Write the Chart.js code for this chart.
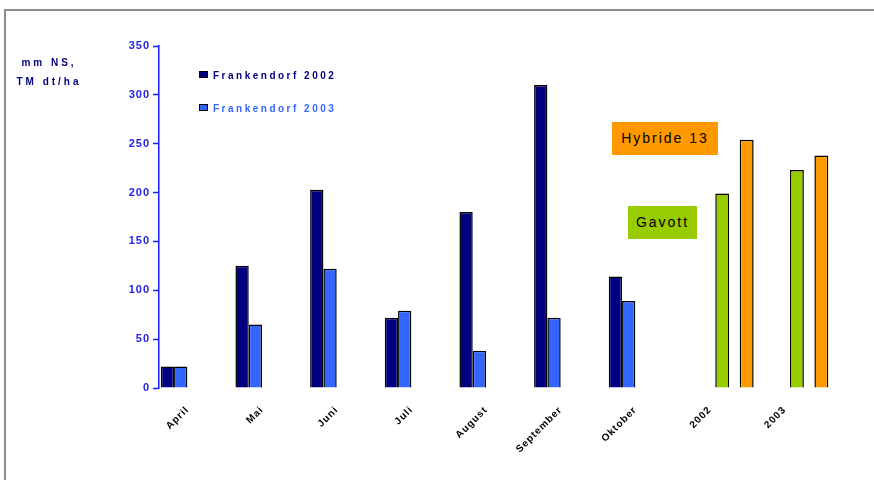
<!DOCTYPE html>
<html>
<head>
<meta charset="utf-8">
<script src="https://cdn.jsdelivr.net/npm/chart.js@4.4.1/dist/chart.umd.min.js"></script>
<style>
  body { margin: 0; width: 874px; height: 480px; background: #fff; position: relative; overflow: hidden; font-family: "Liberation Sans", Arial, sans-serif; }
  #frame { position: absolute; left: 4px; top: 9px; width: 880px; height: 480px; border-top: 2px solid #8c8c8c; border-left: 2px solid #8c8c8c; }
  #wrap { position: absolute; left: 0; top: 0; width: 874px; height: 480px; }
  #unit { position: absolute; left: 8px; top: 53px; width: 82px; text-align: center; color: #000080; font-weight: bold; font-size: 10px; line-height: 19px; letter-spacing: 3px; }
  #legend { position: absolute; left: 199px; top: 70px; }
  #legend div { height: 33px; font-weight: bold; font-size: 10px; letter-spacing: 2.5px; white-space: nowrap; }
  #legend span { display: inline-block; width: 7px; height: 5px; border: 1px solid #000; margin-right: 5px; vertical-align: 1px; }
  .tag { position: absolute; height: 33px; line-height: 33px; text-align: center; font-size: 14px; letter-spacing: 2px; color: #000; }
</style>
</head>
<body>
<div id="frame"></div>
<div id="wrap"><canvas id="chart"></canvas></div>
<div id="unit">mm NS,<br>TM dt/ha</div>
<div id="legend"></div>
<script>
// monthly values for the two Frankendorf years, yields for the two varieties
const months = ['April', 'Mai', 'Juni', 'Juli', 'August', 'September', 'Oktober'];
const years = ['2002', '2003'];
const categories = months.concat(years);
const frankendorf2002 = [22, 125, 203, 72, 180, 310, 114];
const frankendorf2003 = [22, 65, 122, 79, 38, 72, 89];
const gavott = [199, 223];
const hybride13 = [254, 238];
const yTicks = [0, 50, 100, 150, 200, 250, 300, 350];

const monthPoints = arr => arr.map((v, i) => ({ x: i, y: v }));
const yearPoints = arr => arr.map((v, i) => ({ x: months.length + i, y: v }));

// canvas text in this chart is slightly spaced out
const spacing = {
  id: 'spacing',
  beforeUpdate: c => { c.ctx.letterSpacing = '1px'; },
  beforeDraw: c => { c.ctx.letterSpacing = '1px'; }
};

const ctx = document.getElementById('chart');

const chart = new Chart(ctx, {
  type: 'bar',
  data: {
    datasets: [{
      label: 'Frankendorf 2002',
      data: monthPoints(frankendorf2002),
      backgroundColor: '#000080',
      categoryPercentage: 0.712,
      barPercentage: 1
    }, {
      label: 'Frankendorf 2003',
      data: monthPoints(frankendorf2003),
      backgroundColor: '#3366ff',
      categoryPercentage: 0.712,
      barPercentage: 1
    }, {
      label: 'Gavott',
      data: yearPoints(gavott),
      backgroundColor: '#99cc00',
      categoryPercentage: 1.31,
      barPercentage: 0.57
    }, {
      label: 'Hybride 13',
      data: yearPoints(hybride13),
      backgroundColor: '#ff9900',
      categoryPercentage: 1.31,
      barPercentage: 0.57
    }]
  },
  plugins: [spacing],
  options: {
    responsive: true,
    maintainAspectRatio: false,
    animation: false,
    layout: { padding: { top: 46, right: 24, left: 0, bottom: 0 } },
    elements: {
      bar: { borderColor: '#000', borderWidth: 1.5 }
    },
    plugins: {
      legend: { display: false },
      tooltip: { enabled: false }
    },
    scales: {
      x: {
        type: 'linear',
        offset: false, // bar charts pad the index axis by default
        min: -0.38,
        max: 8.875,
        afterBuildTicks: s => { s.ticks = categories.map((c, i) => ({ value: i })); },
        afterFit: s => { s.height = 92; },
        grid: { display: false },
        border: { display: false },
        ticks: {
          callback: v => categories[v],
          autoSkip: false,
          minRotation: 45,
          maxRotation: 45,
          padding: 8,
          color: '#000',
          font: { family: 'Liberation Sans', size: 10, weight: 'bold' }
        }
      },
      y: {
        min: yTicks[0],
        max: yTicks[yTicks.length - 1],
        afterBuildTicks: s => { s.ticks = yTicks.map(v => ({ value: v })); },
        afterFit: s => { s.width = 159; },
        grid: { drawOnChartArea: false, tickLength: 6, color: '#1a1aff', tickWidth: 1.5 },
        border: { color: '#1a1aff', width: 1.5 },
        ticks: {
          padding: 3,
          color: '#2323e0',
          font: { family: 'Liberation Sans', size: 11, weight: 'bold' }
        }
      }
    }
  }
});

// legend for the monthly series, tags for the two varieties
const legend = document.getElementById('legend');
chart.data.datasets.slice(0, 2).forEach(ds => {
  const row = document.createElement('div');
  row.style.color = ds.backgroundColor;
  row.innerHTML = '<span style="background:' + ds.backgroundColor + '"></span>' + ds.label;
  legend.appendChild(row);
});

const tagBoxes = [
  { ds: 3, left: 612, top: 122, width: 106 },
  { ds: 2, left: 628, top: 206, width: 69 }
];
tagBoxes.forEach(t => {
  const ds = chart.data.datasets[t.ds];
  const el = document.createElement('div');
  el.className = 'tag';
  el.textContent = ds.label;
  el.style.background = ds.backgroundColor;
  el.style.left = t.left + 'px';
  el.style.top = t.top + 'px';
  el.style.width = t.width + 'px';
  document.body.appendChild(el);
});
</script>
</body>
</html>
